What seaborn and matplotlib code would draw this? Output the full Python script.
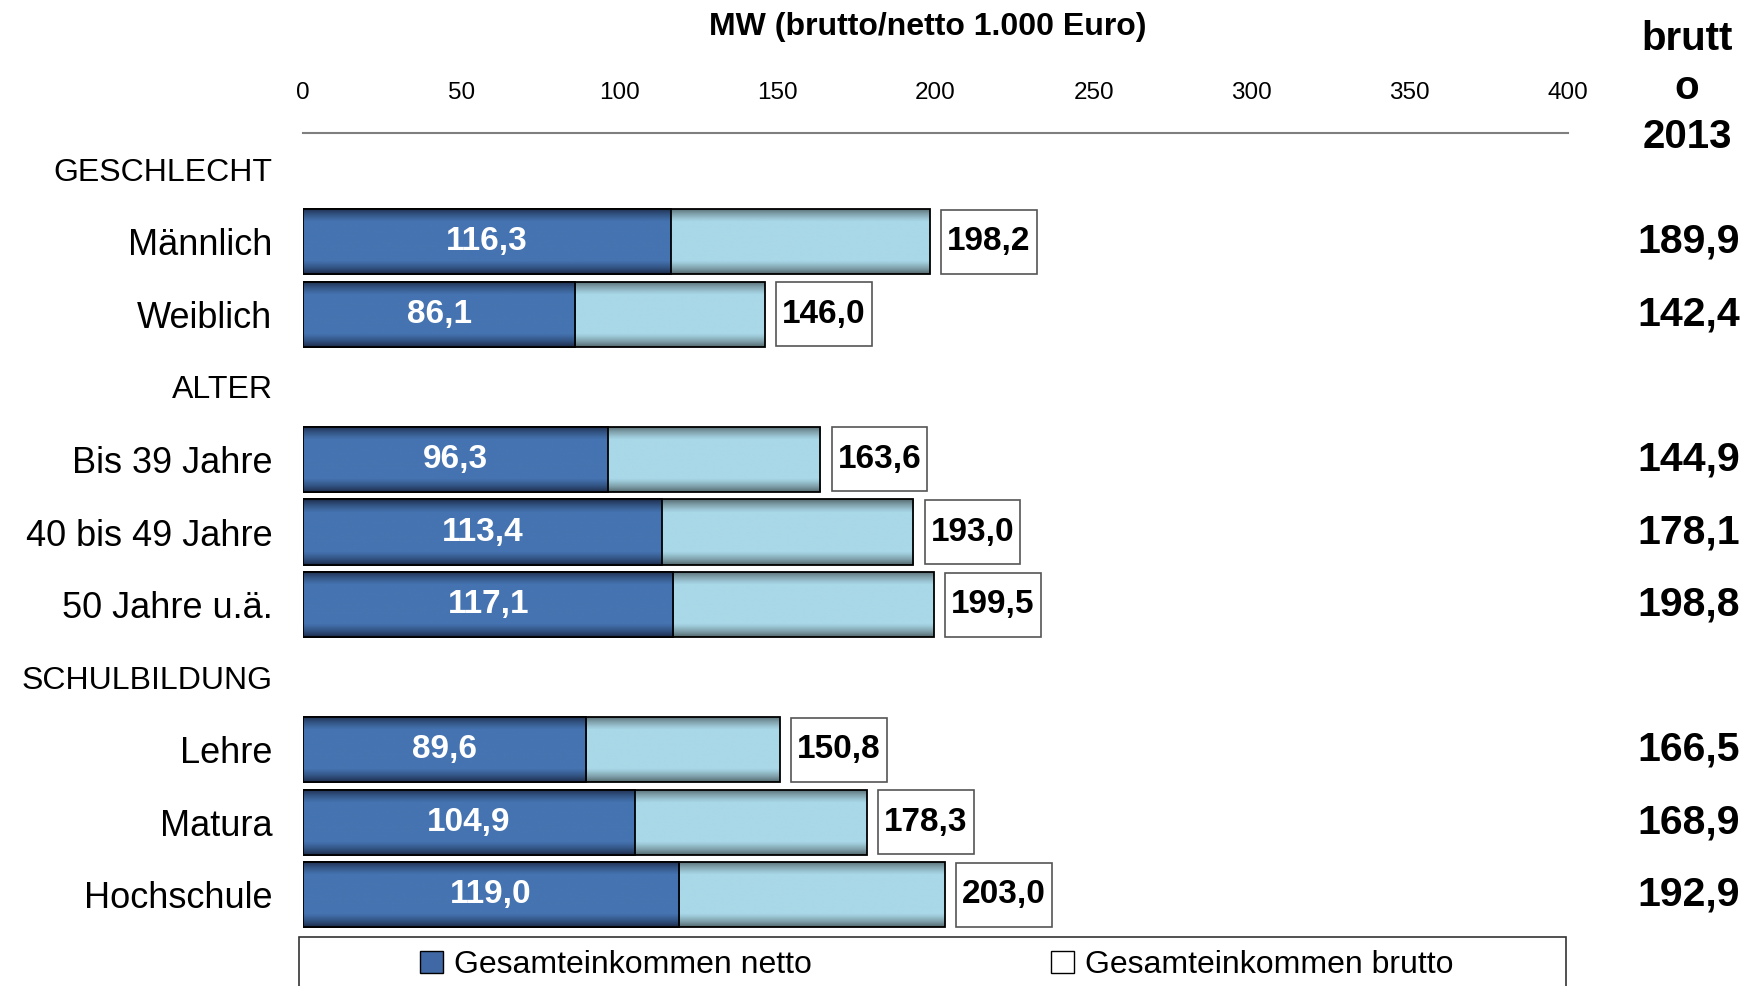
import numpy as np
import pandas as pd
import matplotlib
matplotlib.use("Agg")
import matplotlib.pyplot as plt
import matplotlib.transforms as mtransforms
from matplotlib.patches import Patch, Rectangle
import seaborn as sns

# categories in display order (headers have no bars)
categories = ["GESCHLECHT", "Männlich", "Weiblich", "ALTER", "Bis 39 Jahre",
              "40 bis 49 Jahre", "50 Jahre u.ä.", "SCHULBILDUNG", "Lehre",
              "Matura", "Hochschule"]
headers = ["GESCHLECHT", "ALTER", "SCHULBILDUNG"]
groups = ["Männlich", "Weiblich", "Bis 39 Jahre", "40 bis 49 Jahre",
          "50 Jahre u.ä.", "Lehre", "Matura", "Hochschule"]
netto = [116.3, 86.1, 96.3, 113.4, 117.1, 89.6, 104.9, 119.0]
brutto = [198.2, 146.0, 163.6, 193.0, 199.5, 150.8, 178.3, 203.0]
brutto_2013 = [189.9, 142.4, 144.9, 178.1, 198.8, 166.5, 168.9, 192.9]
xticks = [0, 50, 100, 150, 200, 250, 300, 350, 400]


def fmt(v):
    return f"{v:.1f}".replace(".", ",")


def gradient_fill(ax, patch, edge, mid, z):
    x, y = patch.get_x(), patch.get_y()
    w, h = patch.get_width(), patch.get_height()
    t = np.linspace(0, 1, 80)
    f = np.clip(np.sin(np.pi * t) * 1.7, 0, 1) ** 0.8
    edge = np.array(matplotlib.colors.to_rgb(edge))
    mid = np.array(matplotlib.colors.to_rgb(mid))
    cols = edge + (mid - edge) * f[:, None]
    im = ax.imshow(cols[:, None, :], extent=[x, x + w, y + h, y], aspect="auto",
                   interpolation="bilinear", zorder=z)
    im.set_clip_path(patch)
    patch.set_facecolor("none")
    patch.set_zorder(z + 0.5)


sns.set_style("white")
plt.rcParams["font.family"] = ["Liberation Sans", "DejaVu Sans"]
plt.rcParams["text.color"] = "black"
plt.rcParams["xtick.color"] = "black"
plt.rcParams["ytick.color"] = "black"

df = pd.DataFrame({"group": groups, "netto": netto, "brutto": brutto})

fig = plt.figure(figsize=(17.49, 9.86), dpi=100)
ax = fig.add_axes([303 / 1749, 1 - 931 / 986, (1568 - 303) / 1749, (931 - 133) / 986])

sns.barplot(data=df, x="brutto", y="group", order=categories, color="#a9d8e8",
            width=0.9, errorbar=None, edgecolor="black", linewidth=1.3, ax=ax)
sns.barplot(data=df, x="netto", y="group", order=categories, color="#4573b0",
            width=0.9, errorbar=None, edgecolor="black", linewidth=1.3, ax=ax)

for p in ax.containers[0].patches:
    if np.isfinite(p.get_width()) and p.get_width() > 0:
        gradient_fill(ax, p, "#52656a", "#a9d8e8", 1)
for p in ax.containers[1].patches:
    if np.isfinite(p.get_width()) and p.get_width() > 0:
        gradient_fill(ax, p, "#1b2a47", "#4574b1", 2)

ax.set_xlim(0, 400)
ax.set_ylim(10.5, -0.5)
ax.set_xticks(xticks)
ax.xaxis.tick_top()
ax.tick_params(axis="x", length=0, pad=21, labelsize=17.5, labelcolor="black")
ax.tick_params(axis="y", length=0, pad=22, labelsize=26, labelcolor="black")
for lab in ax.get_yticklabels():
    if lab.get_text() in headers:
        lab.set_fontsize(23)
ax.set_xlabel("")
ax.set_ylabel("")
for s in ["left", "right", "bottom"]:
    ax.spines[s].set_visible(False)
ax.spines["top"].set_color("#7f7f7f")
ax.spines["top"].set_linewidth(1.5)

# labels
ypos = {c: i for i, c in enumerate(categories)}
box_off = mtransforms.offset_copy(ax.transData, fig=fig, x=12.5, y=0, units="points")
for g, n, b in zip(groups, netto, brutto):
    y = ypos[g]
    ax.text(n / 2, y, fmt(n), ha="center", va="center", color="white",
            fontsize=24, fontweight="bold", zorder=5)
    ax.text(b, y, fmt(b), ha="left", va="center", color="black", fontsize=24,
            fontweight="bold", transform=box_off, zorder=5,
            bbox=dict(boxstyle="square,pad=0.18", mutation_aspect=2.75,
                      facecolor="white", edgecolor="#555555", linewidth=1.2))

right_tr = mtransforms.blended_transform_factory(fig.transFigure, ax.transData)
for g, v in zip(groups, brutto_2013):
    ax.text(1740 / 1749, ypos[g], fmt(v), ha="right", va="center", fontsize=29.5,
            fontweight="bold", color="black", transform=right_tr)

fig.text(1687 / 1749, 1 - 88 / 986, "brutt\no\n2013", ha="center", va="center",
         fontsize=29, fontweight="bold", linespacing=1.35, color="black")
fig.text(928 / 1749, 1 - 27 / 986, "MW (brutto/netto 1.000 Euro)", ha="center",
         va="center", fontsize=23, fontweight="bold", color="black")

# legend
fig.add_artist(Rectangle((299 / 1749, -0.05), (1566 - 299) / 1749, 0.05 + 1 - 937 / 986,
                         transform=fig.transFigure, fill=False, edgecolor="#333333",
                         linewidth=1.2))
handles = [Patch(facecolor="#3f68a4", edgecolor="black"),
           Patch(facecolor="white", edgecolor="black")]
leg = fig.legend(handles, ["Gesamteinkommen netto", "Gesamteinkommen brutto"],
                 loc="center", bbox_to_anchor=(937 / 1749, 1 - 965 / 986), ncol=2,
                 frameon=False, fontsize=23, handlelength=0.7, handleheight=0.7,
                 handletextpad=0.35, columnspacing=7.5, borderpad=0)
for txt in leg.get_texts():
    txt.set_color("black")

fig.savefig("out.png", dpi=100)
